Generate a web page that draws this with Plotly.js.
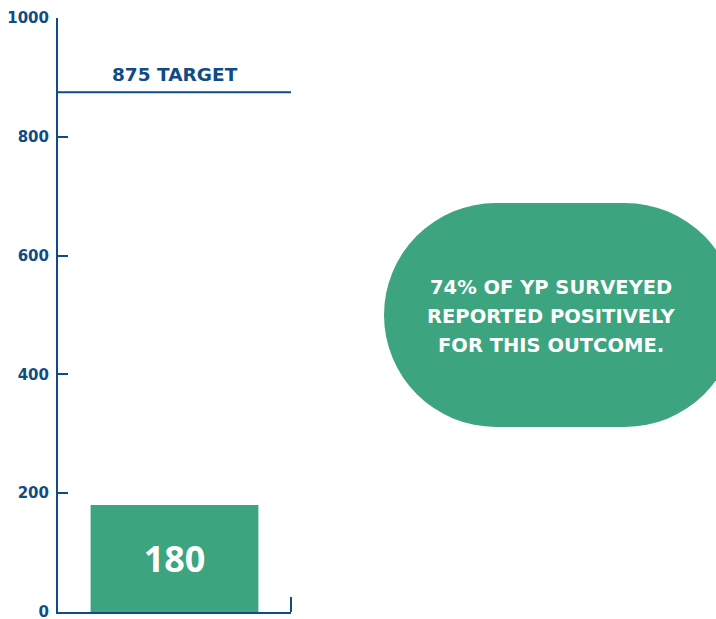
<!DOCTYPE html>
<html><head><meta charset="utf-8">
<script src="https://cdn.plot.ly/plotly-3.0.1.min.js"></script>
<style>html,body{margin:0;padding:0;background:#fff;overflow:hidden}</style>
</head><body>
<div id="chart" style="width:716px;height:619px"></div>
<script>
const categories = ["Outcome"];
const values = [180];
const targetValue = 875;
const targetLabel = "875 TARGET";
const yTicks = [0, 200, 400, 600, 800, 1000];
const calloutLines = ["74% OF YP SURVEYED", "REPORTED POSITIVELY", "FOR THIS OUTCOME."];

const BLUE = "#0f4c84";
const GREEN = "#3ca47e";
const FONT = "'DejaVu Sans', sans-serif";
const NUMFONT = "'Open Sans', sans-serif";

// pixel -> paper helpers (plot area: x 58..291, y 18..612)
const L = 58, R = 291, T = 18, B = 612;
const px = v => (v - L) / (R - L);
const py = v => (B - v) / (B - T);

const trace = {
  type: "bar",
  x: [0],
  y: values,
  width: 0.72,
  marker: {color: GREEN},
  text: values.map(String),
  textposition: "inside",
  insidetextanchor: "middle",
  textfont: {family: NUMFONT, size: 36, color: "#ffffff", weight: 700},
  hoverinfo: "skip",
  cliponaxis: false
};

const calloutY = [287, 316, 345];

const layout = {
  width: 716, height: 619,
  margin: {l: L, r: 716 - R, t: T, b: 619 - B},
  paper_bgcolor: "#ffffff", plot_bgcolor: "#ffffff",
  showlegend: false,
  font: {family: FONT, color: BLUE},
  xaxis: {
    range: [-0.5, 0.5], showgrid: false, zeroline: false,
    showline: true, linecolor: BLUE, linewidth: 2,
    showticklabels: false, ticks: "",
    fixedrange: true
  },
  yaxis: {
    range: [0, 1000], tickvals: yTicks, ticktext: yTicks.map(String),
    showgrid: false, zeroline: false,
    showline: true, linecolor: BLUE, linewidth: 2,
    ticks: "inside", ticklen: 10, tickwidth: 2, tickcolor: BLUE,
    tickfont: {family: FONT, size: 15, color: BLUE, weight: "bold"},
    ticklabelstandoff: 4,
    ticklabeloverflow: "allow",
    fixedrange: true
  },
  shapes: [
    {type: "line", xref: "paper", yref: "y", x0: 0, x1: 1, y0: targetValue, y1: targetValue,
     line: {color: BLUE, width: 2}},
    {type: "line", xref: "paper", yref: "paper", x0: 1, x1: 1, y0: 0, y1: py(597),
     line: {color: BLUE, width: 2}},
    {type: "circle", xref: "paper", yref: "paper", x0: px(384), x1: px(608), y0: py(427), y1: py(203),
     fillcolor: GREEN, line: {width: 0}},
    {type: "circle", xref: "paper", yref: "paper", x0: px(513), x1: px(737), y0: py(427), y1: py(203),
     fillcolor: GREEN, line: {width: 0}},
    {type: "rect", xref: "paper", yref: "paper", x0: px(496), x1: px(625), y0: py(427), y1: py(203),
     fillcolor: GREEN, line: {width: 0}}
  ],
  annotations: [
    {xref: "paper", yref: "y", x: 0.5, y: targetValue, yshift: 18, xanchor: "center", text: targetLabel, showarrow: false,
     font: {family: FONT, size: 18.5, color: BLUE, weight: "bold"}}
  ].concat(calloutLines.map((t, i) => ({
     xref: "paper", yref: "paper", x: px(551), y: py(calloutY[i]), xanchor: "center", yanchor: "middle",
     text: t, showarrow: false,
     font: {family: FONT, size: 19.5, color: "#ffffff", weight: "bold"}
  })))
};

Plotly.newPlot("chart", [trace], layout, {displayModeBar: false, staticPlot: true});
</script>
</body></html>
